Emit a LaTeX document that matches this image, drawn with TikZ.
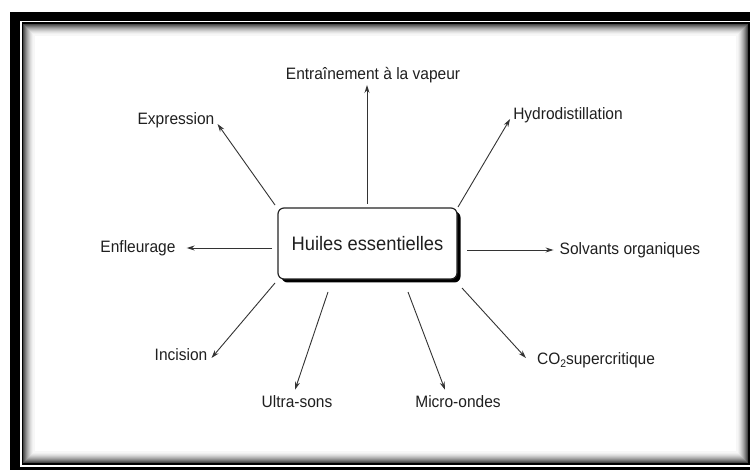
\documentclass[tikz,border=0pt]{standalone}
\usepackage{fontspec}
\usepackage{graphicx}
\setmainfont{Liberation Sans}
\usetikzlibrary{arrows.meta,shadows}
\newcommand{\narrow}[1]{\scalebox{0.94}[1]{#1}}
\begin{document}
\begin{tikzpicture}[x=1pt,y=-1pt,
  lbl/.style={inner sep=2pt, text=black!88, font=\fontsize{16.5}{19}\selectfont},
  arr/.style={draw=black!80, line width=0.9pt, -{Stealth[length=8pt,width=5pt]}},
  hub/.style={draw=black!85, line width=1.2pt, fill=white, rounded corners=6pt,
    minimum width=179pt, minimum height=71pt, inner sep=0pt,
    font=\fontsize{19.5}{23}\selectfont, text=black!88,
    drop shadow={shadow xshift=3.5pt, shadow yshift=-3.5pt, fill=black, opacity=1}}]
\useasboundingbox (0,0) rectangle (750,470);
\clip (0,0) rectangle (750,470);
% frame
\fill[white] (0,0) rectangle (750,470);
\fill[black] (10,12) rectangle (770,490);
\fill[white] (19.5,21.5) rectangle (751,466.5);
\foreach \i/\c in {2/72,3/62,4/52,5/43,6/35,7/28,8/21,9/15,10/10,11/6,12/3}{
  \draw[black!\c, line width=1.05pt] (22+\i,23+\i) rectangle (749-\i,464-\i);
}
\draw[black, line width=1.6pt] (22.3,23.3) rectangle (748.7,463.7);
% hub
\node[hub] (hub) at (367.5,243.5) {\narrow{Huiles essentielles}};
% labels
\node[lbl] (ent) at (373,75) {\narrow{Entraînement à la vapeur}};
\node[lbl] (hyd) at (568,115) {\narrow{Hydrodistillation}};
\node[lbl] (exp) at (176,120) {\narrow{Expression}};
\node[lbl] (enf) at (138,248) {\narrow{Enfleurage}};
\node[lbl] (sol) at (630,250) {\narrow{Solvants organiques}};
\node[lbl] (inc) at (181,355) {\narrow{Incision}};
\node[lbl] (co2) at (596,360) {\narrow{CO\raisebox{-3.5pt}{\fontsize{11}{12}\selectfont 2}supercritique}};
\node[lbl] (ult) at (297,402) {\narrow{Ultra-sons}};
\node[lbl] (mic) at (458,402) {\narrow{Micro-ondes}};
% start points
\coordinate (sEnt) at (367,204);
\coordinate (sHyd) at (458,207);
\coordinate (sExp) at (275,205);
\coordinate (sEnf) at (272,248);
\coordinate (sSol) at (467,250);
\coordinate (sInc) at (275,283);
\coordinate (sUlt) at (328,292);
\coordinate (sMic) at (408,292);
\coordinate (sCO) at (462,288);
% connectors
\draw[arr] (sEnt) -- (sEnt |- ent.south);
\draw[arr] (sHyd) -- ([xshift=-1pt,yshift=-4pt]hyd.west);
\draw[arr] (sExp) -- ([xshift=1pt,yshift=-4pt]exp.east);
\draw[arr] (sEnf) -- ([xshift=9pt]enf.east);
\draw[arr] (sSol) -- ([xshift=-4pt]sol.west);
\draw[arr] (sInc) -- ([xshift=2pt,yshift=-3pt]inc.east);
\draw[arr] (sUlt) -- ([xshift=-2pt,yshift=4pt]ult.north);
\draw[arr] (sMic) -- ([xshift=-13pt,yshift=4pt]mic.north);
\draw[arr] (sCO) -- ([xshift=-9pt,yshift=2pt]co2.west);
\end{tikzpicture}
\end{document}
